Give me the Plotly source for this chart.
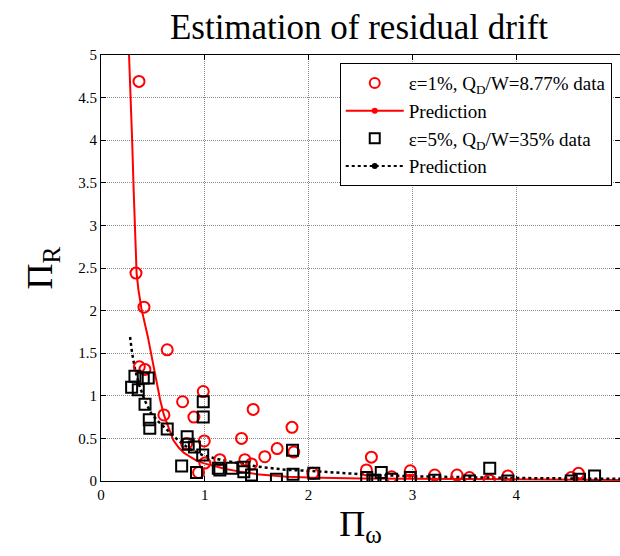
import plotly.graph_objects as go

# ---- data ----
red_x = [0.366, 0.337, 0.414, 0.369, 0.423, 0.638, 0.606, 0.786, 0.895, 0.985, 0.995, 0.825, 1.0, 0.94,
         1.145, 1.354, 1.466, 1.386, 1.45, 1.578, 1.697, 1.84, 1.857, 2.04, 2.605, 2.557, 2.80, 2.98,
         2.98, 3.215, 3.43, 3.55, 3.74, 3.92, 4.53, 4.60]
red_y = [4.69, 2.44, 2.04, 1.34, 1.31, 1.54, 0.775, 0.93, 0.75, 1.05, 0.47, 0.44, 0.21, 0.10,
         0.25, 0.50, 0.84, 0.25, 0.20, 0.285, 0.38, 0.63, 0.34, 0.09, 0.28, 0.13, 0.05, 0.12,
         0.01, 0.07, 0.07, 0.04, 0.01, 0.06, 0.04, 0.09]

blk_x = [0.327, 0.295, 0.359, 0.407, 0.455, 0.424, 0.465, 0.47, 0.638, 0.83, 0.84, 0.90, 0.98, 0.985,
         0.985, 0.777, 0.92, 1.13, 1.145, 1.26, 1.376, 1.45, 1.376, 1.69, 1.845, 1.85, 2.05, 2.56,
         2.62, 2.70, 2.64, 2.80, 2.98, 3.215, 3.55, 3.745, 3.92, 4.53, 4.61, 4.755]
blk_y = [1.23, 1.10, 1.07, 1.21, 1.21, 0.90, 0.72, 0.62, 0.61, 0.52, 0.43, 0.40, 0.305, 0.93,
         0.75, 0.175, 0.10, 0.15, 0.13, 0.15, 0.11, 0.07, 0.16, 0.02, 0.36, 0.08, 0.09, 0.04,
         0.01, 0.10, 0.0, 0.02, 0.04, 0.01, 0.0, 0.15, 0.0, 0.0, 0.02, 0.06]

pred1_x = [0.27, 0.29, 0.30, 0.315, 0.324, 0.335, 0.343, 0.36, 0.39, 0.45, 0.50, 0.536, 0.57, 0.606,
           0.65, 0.696, 0.75, 0.80, 0.857, 0.92, 0.985, 1.1, 1.2, 1.34, 1.5, 1.79, 2.0, 2.5, 3.0,
           4.0, 5.0]
pred1_y = [5.0, 4.4, 4.0, 3.4, 3.0, 2.6, 2.44, 2.25, 2.02, 1.7, 1.38, 1.15, 0.95, 0.775,
           0.62, 0.48, 0.39, 0.33, 0.285, 0.24, 0.21, 0.17, 0.14, 0.11, 0.08, 0.05, 0.04, 0.03, 0.025,
           0.015, 0.012]

pred2_x = [0.28, 0.30, 0.33, 0.37, 0.42, 0.48, 0.55, 0.64, 0.75, 0.85, 0.985, 1.15, 1.31, 1.5,
           1.79, 2.0, 2.5, 3.0, 3.5, 4.0, 5.0]
pred2_y = [1.69, 1.50, 1.30, 1.12, 0.95, 0.80, 0.70, 0.60, 0.47, 0.38, 0.30, 0.25, 0.21, 0.17,
           0.13, 0.12, 0.08, 0.055, 0.045, 0.035, 0.025]

x_ticks = [0, 1, 2, 3, 4, 5]
y_ticks = [0, 0.5, 1, 1.5, 2, 2.5, 3, 3.5, 4, 4.5, 5]

FONT = "Liberation Serif"

fig = go.Figure()

# data curves (no legend)
fig.add_trace(go.Scatter(x=pred1_x, y=pred1_y, mode="lines", line=dict(color="red", width=2),
                         showlegend=False, hoverinfo="skip"))
fig.add_trace(go.Scatter(x=pred2_x, y=pred2_y, mode="lines", line=dict(color="black", width=2.5, dash="dot"),
                         showlegend=False, hoverinfo="skip"))
fig.add_trace(go.Scatter(x=red_x, y=red_y, mode="markers",
                         marker=dict(symbol="circle-open", size=11, color="red", line=dict(width=2)),
                         showlegend=False))
fig.add_trace(go.Scatter(x=blk_x, y=blk_y, mode="markers",
                         marker=dict(symbol="square-open", size=11, color="black", line=dict(width=2)),
                         showlegend=False))

# legend entries
fig.add_trace(go.Scatter(x=[None], y=[None], mode="markers", name="ε=1%, Q<sub>D</sub>/W=8.77% data",
                         marker=dict(symbol="circle-open", size=10, color="red", line=dict(width=2))))
fig.add_trace(go.Scatter(x=[None], y=[None], mode="lines+markers", name="Prediction",
                         line=dict(color="red", width=2), marker=dict(size=6, color="red")))
fig.add_trace(go.Scatter(x=[None], y=[None], mode="markers", name="ε=5%, Q<sub>D</sub>/W=35% data",
                         marker=dict(symbol="square-open", size=10, color="black", line=dict(width=2))))
fig.add_trace(go.Scatter(x=[None], y=[None], mode="lines+markers", name="Prediction",
                         line=dict(color="black", width=2, dash="dot"), marker=dict(size=6, color="black")))

axis_common = dict(showline=True, linecolor="black", linewidth=1, mirror="ticks", ticks="inside",
                   ticklen=5, tickcolor="black", showgrid=True, gridcolor="#8a8a8a", gridwidth=1,
                   griddash="1px,1px", zeroline=False, tickfont=dict(family=FONT, size=15, color="black"))

fig.update_layout(
    width=620, height=556,
    margin=dict(l=101, r=0, t=55, b=75),
    paper_bgcolor="white", plot_bgcolor="white",
    font=dict(family=FONT, color="black"),
    title=dict(text="Estimation of residual drift", x=0.579, xanchor="center", y=0.952, yanchor="middle",
               font=dict(family=FONT, size=35, color="black")),
    xaxis=dict(range=[0, 5], tickvals=x_ticks, ticktext=[str(v) for v in x_ticks],
               title=dict(text="Π<sub>ω</sub>", font=dict(family=FONT, size=36), standoff=8),
               **axis_common),
    yaxis=dict(range=[0, 5], tickvals=y_ticks, ticktext=[f"{v:g}" for v in y_ticks],
               title=dict(text="Π<sub>R</sub>", font=dict(family=FONT, size=36), standoff=14),
               **axis_common),
    legend=dict(x=0.46, y=0.981, xanchor="left", yanchor="top", bgcolor="white",
                bordercolor="black", borderwidth=1, font=dict(family=FONT, size=19, color="black"),
                itemwidth=58, tracegroupgap=0),
)

fig.write_html("out.html")
